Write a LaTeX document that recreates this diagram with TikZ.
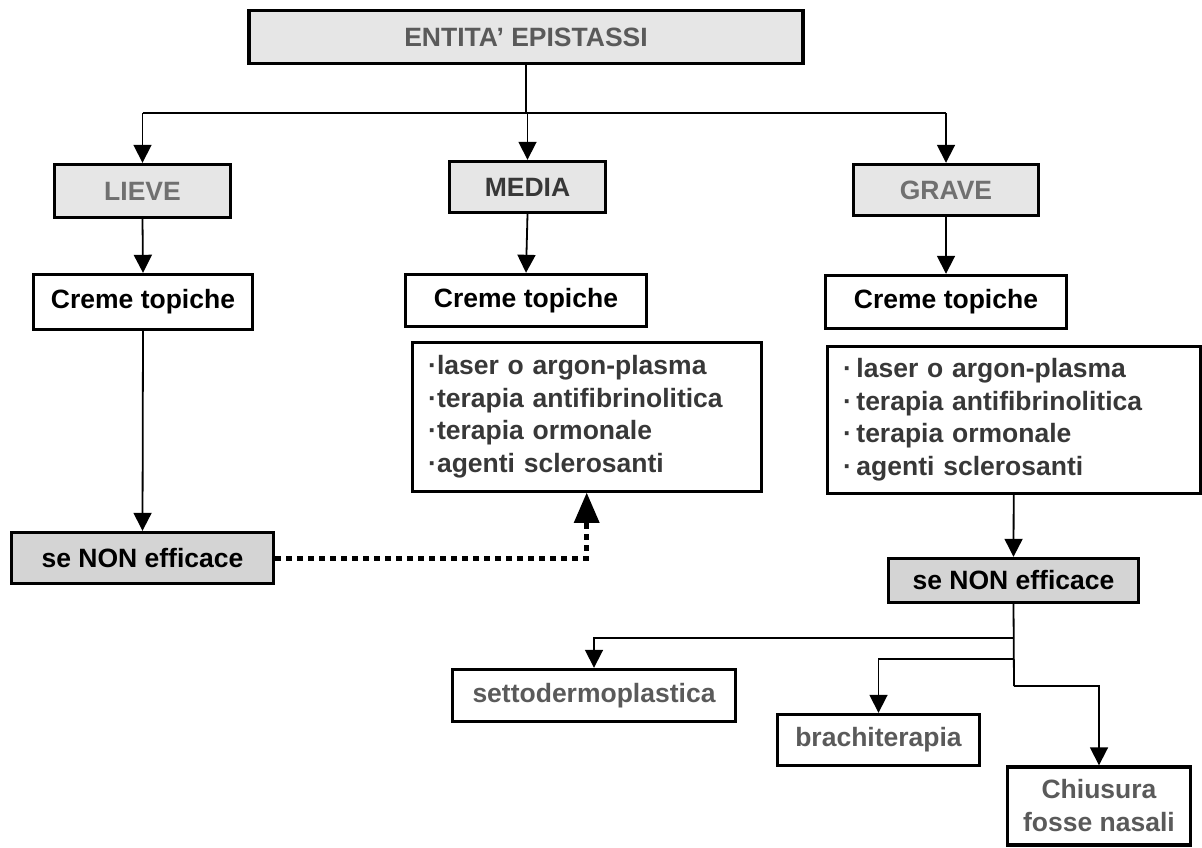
\documentclass[tikz,border=0pt]{standalone}
\usepackage{fontspec}
\setmainfont{Liberation Sans}
\usetikzlibrary{arrows.meta}
\definecolor{lightfill}{HTML}{E6E6E6}
\definecolor{nonfill}{HTML}{D4D4D4}
\definecolor{darktext}{HTML}{383838}
\definecolor{midtext}{HTML}{5A5A5A}
\definecolor{softtext}{HTML}{707070}
\begin{document}
\begin{tikzpicture}[x=1pt,y=-1pt,
  box/.style={draw=black, line width=3.4pt, rectangle, inner sep=0pt,
    font=\bfseries\fontsize{26.5}{33}\selectfont},
  shaded/.style={box, fill=lightfill},
  nonbox/.style={box, fill=nonfill},
  listbox/.style={box, align=left, inner xsep=16pt, anchor=north west,
    font=\bfseries\fontsize{26.5}{32.5}\selectfont, text=darktext},
  arr/.style={-{Triangle[length=18pt,width=18pt]}, line width=1.8pt},
  link/.style={line width=1.8pt},
  dotlink/.style={line width=5pt, dash pattern=on 6pt off 5pt,
    -{Triangle[length=30pt,width=26pt,line width=0pt]}}]
\useasboundingbox (0,0) rectangle (1202,848);

% severity levels
\node[shaded, minimum width=554pt, minimum height=53pt, text=midtext] (top) at (526,37) {ENTITA' EPISTASSI};
\node[shaded, minimum width=176pt, minimum height=53pt, text=softtext] (lieve) at (142.5,191) {LIEVE};
\node[shaded, minimum width=156pt, minimum height=51pt, text=darktext] (media) at (527.5,187) {MEDIA};
\node[shaded, minimum width=185pt, minimum height=51pt, text=softtext] (grave) at (946,190) {GRAVE};

% first-line treatment
\node[box, minimum width=219pt, minimum height=55pt] (c1) at (143,302) {Creme topiche};
\node[box, minimum width=241pt, minimum height=52pt] (c2) at (526,300.5) {Creme topiche};
\node[box, minimum width=241pt, minimum height=53pt] (c3) at (946,302) {Creme topiche};

% second-line treatments
\node[listbox, text width=317pt, minimum height=149pt] (l2) at (410.5,340.5)
  {·laser o argon-plasma\\·terapia antifibrinolitica\\·terapia ormonale\\·agenti sclerosanti};
\node[listbox, text width=341pt, minimum height=147pt] (l3) at (825.5,344.5)
  {·\,laser o argon-plasma\\·\,terapia antifibrinolitica\\·\,terapia ormonale\\·\,agenti sclerosanti};

% failure boxes
\node[nonbox, minimum width=262pt, minimum height=51pt] (n1) at (142.5,558) {se NON efficace};
\node[nonbox, minimum width=250pt, minimum height=44pt] (n2) at (1013.5,580.5) {se NON efficace};

% surgical options
\node[box, minimum width=283pt, minimum height=52pt, text=midtext] (setto) at (594,695.5) {settodermoplastica};
\node[box, minimum width=202pt, minimum height=51pt, text=midtext] (brachi) at (878.5,740) {brachiterapia};
\node[box, minimum width=183pt, minimum height=78pt, text=midtext, align=center] (chius) at (1099,806) {Chiusura\\fosse nasali};

% top distribution
\coordinate (hub) at (526,113);
\draw[link] (top.south) -- (hub);
\draw[link] (lieve.north |- hub) -- (grave.north |- hub);
\draw[arr] (lieve.north |- hub) -- (lieve.north);
\draw[arr] (media.north |- hub) -- (media.north);
\draw[arr] (grave.north |- hub) -- (grave.north);

\draw[arr] (lieve.south) -- (c1.north);
\draw[arr] (media.south) -- (c2.north);
\draw[arr] (grave.south) -- (c3.north);

\draw[arr] (c1.south) -- (n1.north);
\draw[arr] (l3.south) -- (n2.north);
\draw[dotlink] (n1.east) -| (l2.south);

% bottom branches
\coordinate (b1) at (1014,638);
\coordinate (b2) at (1014,659);
\coordinate (b3) at (1014,686);
\draw[link] (n2.south) -- (b3);
\draw[arr] (b1) -| (setto.north);
\draw[arr] (b2) -| (brachi.north);
\draw[arr] (b3) -| (chius.north);
\end{tikzpicture}
\end{document}
